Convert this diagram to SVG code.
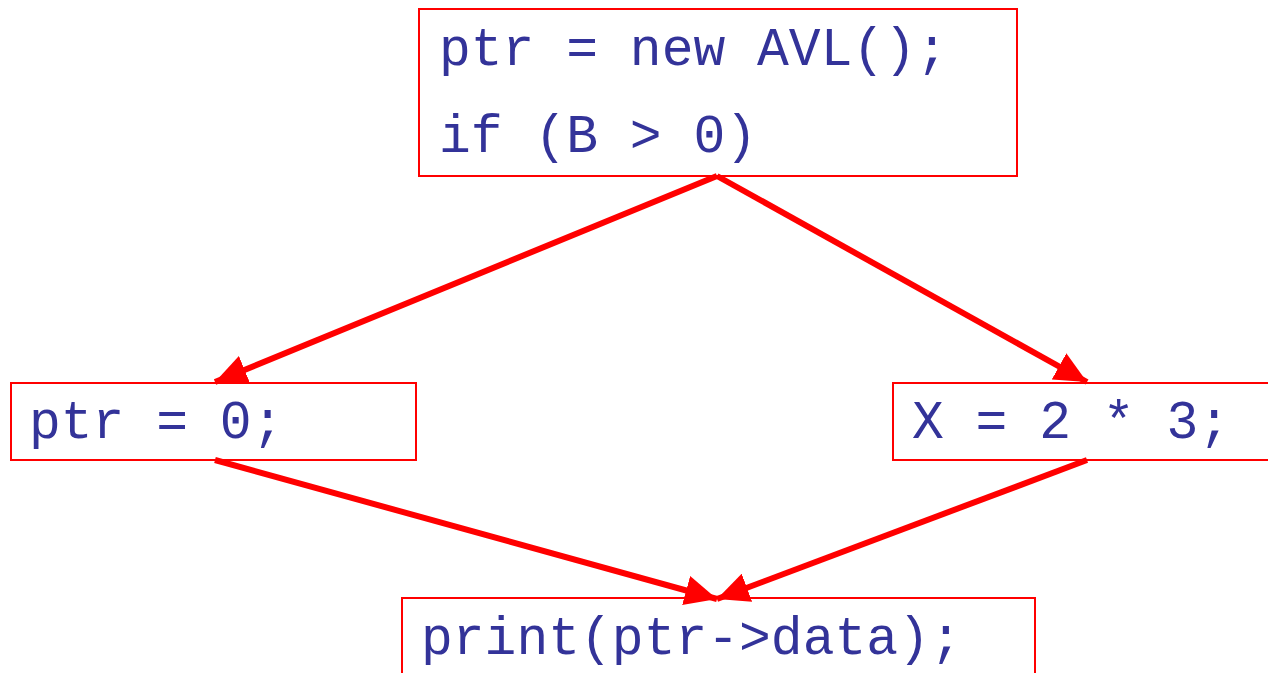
<svg xmlns="http://www.w3.org/2000/svg" width="1268" height="673" viewBox="0 0 1268 673">
<style>
.box{fill:#fff;stroke:#ff0000;stroke-width:2}
.t{font-family:"Liberation Mono","Courier New",monospace;font-size:53px;fill:#333399}
.edge{stroke:#ff0000;stroke-width:6;fill:none}
</style>
<defs>
<marker id="ah" markerUnits="userSpaceOnUse" markerWidth="34" markerHeight="30" refX="32" refY="15" orient="auto">
<path d="M0,0 L32,15 L0,30 z" fill="#ff0000"/>
</marker>
</defs>
<rect width="1268" height="673" fill="#fff"/>
<g id="n1"><rect class="box" x="419" y="9" width="598" height="167"/>
<text class="t" x="439" y="65">ptr = new AVL();</text>
<text class="t" x="439" y="152">if (B &gt; 0)</text></g>
<g id="n2"><rect class="box" x="11" y="383" width="405" height="77"/>
<text class="t" x="29" y="438">ptr = 0;</text></g>
<g id="n3"><rect class="box" x="893" y="383" width="380" height="77"/>
<text class="t" x="912" y="438">X = 2 * 3;</text></g>
<g id="n4"><rect class="box" x="402" y="598" width="633" height="90"/>
<text class="t" x="421" y="654">print(ptr-&gt;data);</text></g>
<g id="edges">
<path class="edge" d="M717,176 L215,382" marker-end="url(#ah)"/>
<path class="edge" d="M717,176 L1087,382" marker-end="url(#ah)"/>
<path class="edge" d="M215,460 L717,599" marker-end="url(#ah)"/>
<path class="edge" d="M1087,460 L717,599" marker-end="url(#ah)"/>
</g>
</svg>
